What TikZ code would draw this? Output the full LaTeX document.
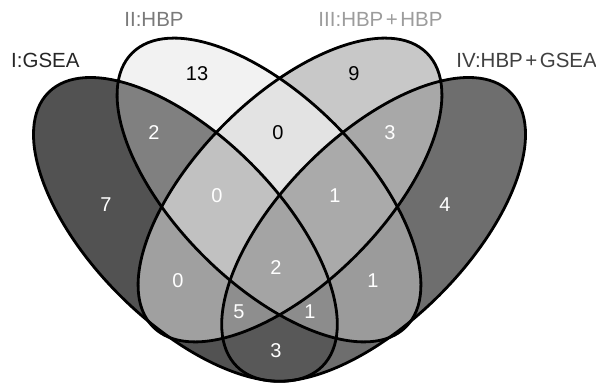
\documentclass[tikz,border=0pt]{standalone}
\usepackage{fontspec}
\setmainfont{Liberation Sans}
\definecolor{cI}{RGB}{82,82,82}
\definecolor{cII}{RGB}{242,242,242}
\definecolor{cIII}{RGB}{200,200,200}
\definecolor{cIV}{RGB}{110,110,110}
\definecolor{cIxII}{RGB}{128,128,128}
\definecolor{cIIxIII}{RGB}{227,227,227}
\definecolor{cIIIxIV}{RGB}{168,168,168}
\definecolor{cIxIII}{RGB}{160,160,160}
\definecolor{cIIxIV}{RGB}{155,155,155}
\definecolor{cIxIV}{RGB}{88,88,88}
\definecolor{cIxIIxIII}{RGB}{193,193,193}
\definecolor{cIIxIIIxIV}{RGB}{170,170,170}
\definecolor{cIxIIIxIV}{RGB}{142,142,142}
\definecolor{cIxIIxIV}{RGB}{140,140,140}
\definecolor{cAll}{RGB}{164,164,164}
\definecolor{labI}{RGB}{38,38,38}
\definecolor{labII}{RGB}{122,122,122}
\definecolor{labIII}{RGB}{156,156,156}
\definecolor{labIV}{RGB}{64,64,64}
\newcommand\plussign{\kern2.5pt+\kern2.5pt}
\begin{document}
\begin{tikzpicture}[x=1pt,y=1pt,
  num/.style={font=\fontsize{20}{24}\selectfont, inner sep=0pt},
  lab/.style={font=\fontsize{20.5}{24}\selectfont, inner sep=0pt},
  outline/.style={draw=black, line width=2.8pt},
  rA/.style={rotate around={-45:(185.4,155.6)}},
  rB/.style={rotate around={-45:(269,195)}},
  rC/.style={rotate around={45:(290,195)}},
  rD/.style={rotate around={45:(373.6,155.6)}}]
\useasboundingbox (0,0) rectangle (596,385);
\def\pA{(185.4,155.6) ellipse (193.6 and 93)}
\def\pB{(269,195) ellipse (193.6 and 93)}
\def\pC{(290,195) ellipse (193.6 and 93)}
\def\pD{(373.6,155.6) ellipse (193.6 and 93)}
% single sets
\fill[cI,rA] \pA;
\fill[cII,rB] \pB;
\fill[cIII,rC] \pC;
\fill[cIV,rD] \pD;
% pairs
\begin{scope}\clip[rA] \pA; \fill[cIxII,rB] \pB;\end{scope}
\begin{scope}\clip[rB] \pB; \fill[cIIxIII,rC] \pC;\end{scope}
\begin{scope}\clip[rC] \pC; \fill[cIIIxIV,rD] \pD;\end{scope}
\begin{scope}\clip[rA] \pA; \fill[cIxIII,rC] \pC;\end{scope}
\begin{scope}\clip[rB] \pB; \fill[cIIxIV,rD] \pD;\end{scope}
\begin{scope}\clip[rA] \pA; \fill[cIxIV,rD] \pD;\end{scope}
% triples
\begin{scope}\clip[rA] \pA; \clip[rB] \pB; \fill[cIxIIxIII,rC] \pC;\end{scope}
\begin{scope}\clip[rB] \pB; \clip[rC] \pC; \fill[cIIxIIIxIV,rD] \pD;\end{scope}
\begin{scope}\clip[rA] \pA; \clip[rC] \pC; \fill[cIxIIIxIV,rD] \pD;\end{scope}
\begin{scope}\clip[rA] \pA; \clip[rB] \pB; \fill[cIxIIxIV,rD] \pD;\end{scope}
% all four
\begin{scope}\clip[rA] \pA; \clip[rB] \pB; \clip[rC] \pC; \fill[cAll,rD] \pD;\end{scope}
% outlines
\draw[outline,rA] \pA;
\draw[outline,rB] \pB;
\draw[outline,rC] \pC;
\draw[outline,rD] \pD;
% counts
\node[num,black] (n13) at (197,311) {13};
\node[num,white] (n2a) at (154,252) {2};
\node[num,black] (n0a) at (278,252) {0};
\node[num,black] (n9) at (354,311) {9};
\node[num,white] (n3a) at (390,252) {3};
\node[num,white] (n7) at (106,180) {7};
\node[num,white] (n0b) at (217,189) {0};
\node[num,white] (n1a) at (335,189) {1};
\node[num,white] (n4) at (445,180) {4};
\node[num,white] (n0c) at (178,104) {0};
\node[num,white] (n2b) at (276,117) {2};
\node[num,white] (n1b) at (373,104) {1};
\node[num,white] (n5) at (239,73) {5};
\node[num,white] (n1c) at (310,73) {1};
\node[num,white] (n3b) at (276,34) {3};
% set labels
\node[lab,labI,anchor=west] (lI) at (11,325) {I:GSEA};
\node[lab,labII] (lII) at (154,365.5) {II:HBP};
\node[lab,labIII] (lIII) at (380.5,366) {III:HBP\plussign HBP};
\node[lab,labIV,anchor=east] (lIV) at (597,325) {IV:HBP\plussign GSEA};
\end{tikzpicture}
\end{document}
